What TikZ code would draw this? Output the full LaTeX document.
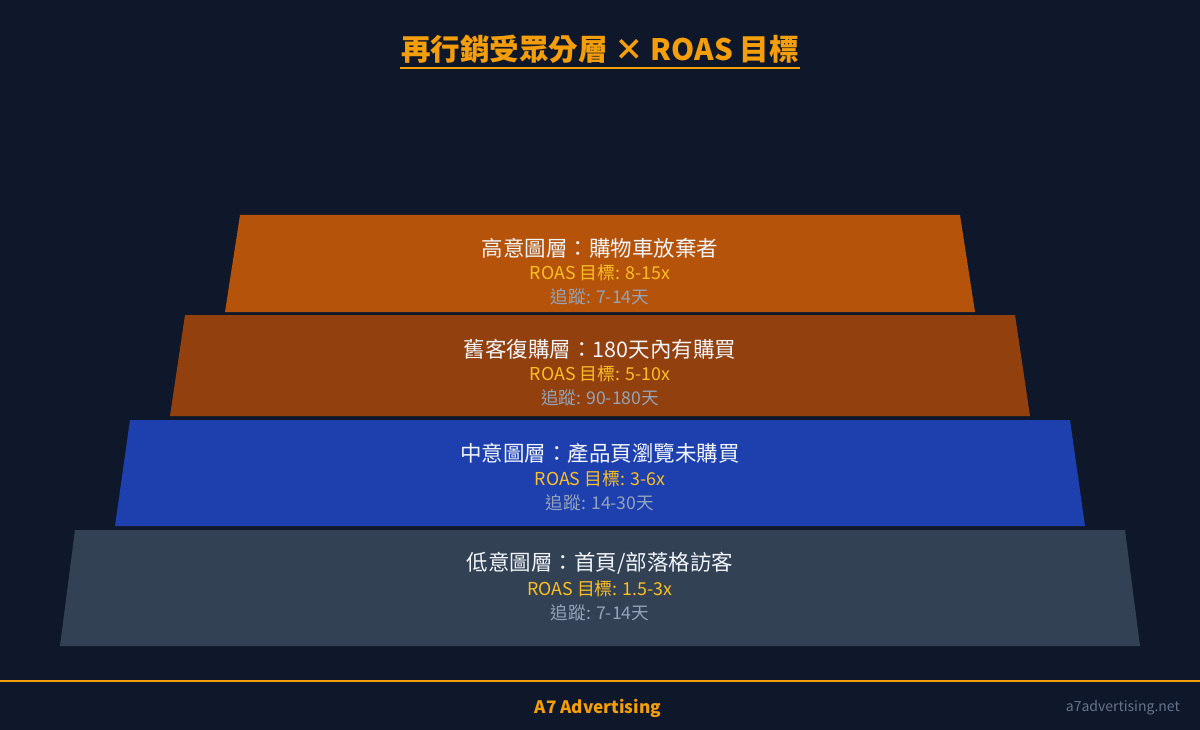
\documentclass[tikz,border=0pt]{standalone}
\usepackage{fontspec}
\setmainfont{Noto Sans CJK TC}
\definecolor{bg}{HTML}{0F172A}
\definecolor{amber}{HTML}{F59E0B}
\definecolor{roas}{HTML}{FBBF24}
\definecolor{trk}{HTML}{94A3B8}
\definecolor{site}{HTML}{64748B}
\definecolor{labc}{HTML}{F1F5F9}
\definecolor{lA}{HTML}{B45309}
\definecolor{lB}{HTML}{92400E}
\definecolor{lC}{HTML}{1E40AF}
\definecolor{lD}{HTML}{334155}
\tikzset{
  lab/.style={text=labc,font=\fontsize{21.5}{25}\selectfont,inner sep=0pt,anchor=center},
  roasl/.style={text=roas,font=\fontsize{17.8}{21}\selectfont,inner sep=0pt,anchor=center},
  trkl/.style={text=trk,font=\fontsize{17.6}{21}\selectfont,inner sep=0pt,anchor=center}
}
\begin{document}
\begin{tikzpicture}[x=1pt,y=-1pt]
\fill[bg] (0,0) rectangle (1200,730);
\useasboundingbox (0,0) rectangle (1200,730);
% title
\node[text=amber,font=\fontsize{29.5}{34}\selectfont\bfseries,inner sep=0pt] (title) at (600,49) {再行銷受眾分層 × ROAS 目標};
\draw[amber,line width=1.2pt] (400,68) -- (800,68);
% layers
\fill[lA] (240,215) -- (960,215) -- (975,312) -- (225,312) -- cycle;
\fill[lB] (185,315) -- (1015,315) -- (1030,416) -- (170,416) -- cycle;
\fill[lC] (130,420) -- (1070,420) -- (1085,526) -- (115,526) -- cycle;
\fill[lD] (75,530) -- (1125,530) -- (1140,646) -- (60,646) -- cycle;
% texts
\node[lab] (a1) at (600,248) {高意圖層：購物車放棄者};
\node[roasl] (a2) at (600,273) {ROAS 目標: 8-15x};
\node[trkl] (a3) at (600,297) {追蹤: 7-14天};
\node[lab] (b1) at (600,349) {舊客復購層：180天內有購買};
\node[roasl] (b2) at (600,374) {ROAS 目標: 5-10x};
\node[trkl] (b3) at (600,398) {追蹤: 90-180天};
\node[lab] (c1) at (600,453) {中意圖層：產品頁瀏覽未購買};
\node[roasl] (c2) at (600,479) {ROAS 目標: 3-6x};
\node[trkl] (c3) at (600,503) {追蹤: 14-30天};
\node[lab] (d1) at (600,563) {低意圖層：首頁/部落格訪客};
\node[roasl] (d2) at (600,589) {ROAS 目標: 1.5-3x};
\node[trkl] (d3) at (600,613) {追蹤: 7-14天};
% footer
\draw[amber,line width=2pt] (0,681) -- (1200,681);
\node[text=amber,font=\fontsize{17.2}{21}\selectfont\bfseries,inner sep=0pt] (brand) at (598,708) {A7 Advertising};
\node[text=site,font=\fontsize{14}{17}\selectfont,inner sep=0pt,anchor=east] (site) at (1180,708) {a7advertising.net};
\end{tikzpicture}
\end{document}
